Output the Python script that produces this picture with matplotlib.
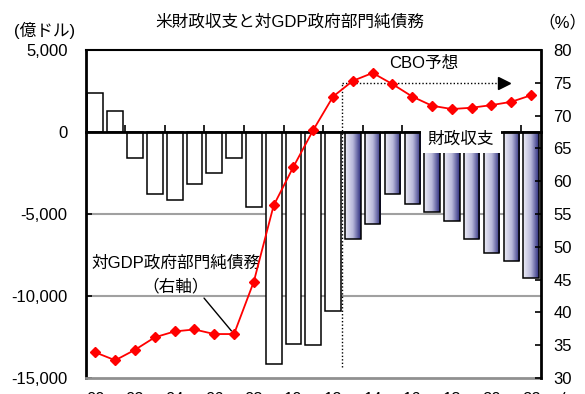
import numpy as np
import matplotlib
matplotlib.use("Agg")
import matplotlib.pyplot as plt
from matplotlib.colors import LinearSegmentedColormap
from matplotlib.ticker import FuncFormatter

plt.rcParams['font.family'] = ['Liberation Sans', 'Noto Sans CJK JP']

# data
years = list(range(2000, 2023))
balance = [2360, 1280, -1580, -3780, -4130, -3180, -2480, -1610, -4590,
           -14130, -12940, -13000, -10890,
           -6500, -5630, -3800, -4370, -4860, -5430, -6500, -7360, -7870, -8920]
debt = [33.9, 32.7, 34.3, 36.2, 37.1, 37.4, 36.7, 36.7, 44.7, 56.3, 62.2, 67.8, 72.9,
        75.3, 76.5, 74.8, 72.9, 71.5, 71.0, 71.2, 71.6, 72.1, 73.1]
first_forecast = 2013
xlabels = ['00', '02', '04', '06', '08', '10', '12', '14', '16', '18', '20', '22']

fig = plt.figure(figsize=(5.85, 3.94), dpi=100)
ax = fig.add_axes([85.5 / 585, 16 / 394, 455.5 / 585, 328 / 394])
ax2 = ax.twinx()

grad = LinearSegmentedColormap.from_list('g', ['#ececf6', '#b8b8da', '#2c2c7e'])
gimg = np.linspace(0, 1, 64).reshape(1, -1)

for y in (-5000, -10000):
    ax.axhline(y, color='#a0a0a0', lw=1.5, zorder=0)
ax.axhline(-15000, color='#909090', lw=2, zorder=3, clip_on=False)

for yr, v in zip(years, balance):
    if yr < first_forecast:
        ax.bar(yr, v, width=0.8, color='white', edgecolor='black', lw=1.1, zorder=2)
    else:
        b = ax.bar(yr, v, width=0.78, color='none', edgecolor='black', lw=1.1, zorder=3)[0]
        im = ax.imshow(gimg, cmap=grad, aspect='auto', zorder=2,
                       extent=(b.get_x(), b.get_x() + b.get_width(), v, 0))
        im.set_clip_path(b)

ax.set_xlim(1999.5, 2022.5)
ax.set_ylim(-15000, 5000)
ax.set_yticks([-15000, -10000, -5000, 0, 5000])
ax.yaxis.set_major_formatter(FuncFormatter(lambda v, p: f'{int(v):,}'))
ax.tick_params(axis='y', direction='in', length=4, width=1.2, pad=13, labelsize=12)
ax.spines['bottom'].set_position(('data', 0))
ax.spines['bottom'].set_linewidth(2)
ax.spines['bottom'].set_zorder(4)
ax.spines['left'].set_linewidth(2)
ax.spines['top'].set_linewidth(1.5)
ax.spines['right'].set_visible(False)
ax.set_xticks([y + 0.5 for y in years[1:-1:2]])
ax.tick_params(axis='x', direction='in', length=5, width=1.2, labelbottom=False)

# year labels (cut off at the bottom like the original)
for yr, lab in zip(years[::2], xlabels):
    ax.text(yr, -0.043, lab, transform=ax.get_xaxis_transform(), ha='center', va='top',
            fontsize=12, clip_on=False)
fig.text(568 / 585, 1 - 392 / 394, '(年)', ha='center', va='top', fontsize=12)

# debt line on right axis
ax2.plot(years, debt, color='#ff0000', lw=1.3, marker='D', ms=5.5, zorder=5)
ax2.set_ylim(30, 80)
ax2.set_yticks(range(30, 81, 5))
ax2.tick_params(axis='y', direction='in', length=4, width=1.2, pad=9, labelsize=12)
for s in ('top', 'left', 'bottom'):
    ax2.spines[s].set_visible(False)
ax2.spines['right'].set_linewidth(2)

# CBO forecast marker
ax2.plot([2012.45, 2012.45], [31.7, 75], color='black', lw=1, dashes=(1, 1.5))
ax2.plot([2012.45, 2020.4], [75, 75], color='black', lw=1, dashes=(1, 1.5))
ax2.plot(2020.65, 75, marker='>', color='black', ms=9, lw=0)
ax2.text(2016.58, 77.9, 'CBO予想', ha='center', va='center', fontsize=12)

ax2.text(2018.44, 66.5, '財政収支', ha='center', va='center', fontsize=12, zorder=6,
         bbox=dict(boxstyle='square,pad=0.4', fc='white', ec='none'))

ax2.annotate('', xy=(years[7], debt[7]), xytext=(-21.6, 25.9), textcoords='offset points',
             arrowprops=dict(arrowstyle='-', color='black', lw=1, shrinkA=0, shrinkB=3))
ax2.text(2004.07, 47.6, '対GDP政府部門純債務', ha='center', va='center', fontsize=12)
ax2.text(2004.07, 44.0, '（右軸）', ha='center', va='center', fontsize=12)

fig.text(290 / 585, 1 - 22 / 394, '米財政収支と対GDP政府部門純債務', ha='center', va='center', fontsize=12)
fig.text(45 / 585, 1 - 30 / 394, '(億ドル)', ha='center', va='center', fontsize=12)
fig.text(562 / 585, 1 - 22 / 394, '（%）', ha='center', va='center', fontsize=12)

fig.savefig('out.png', dpi=100)
